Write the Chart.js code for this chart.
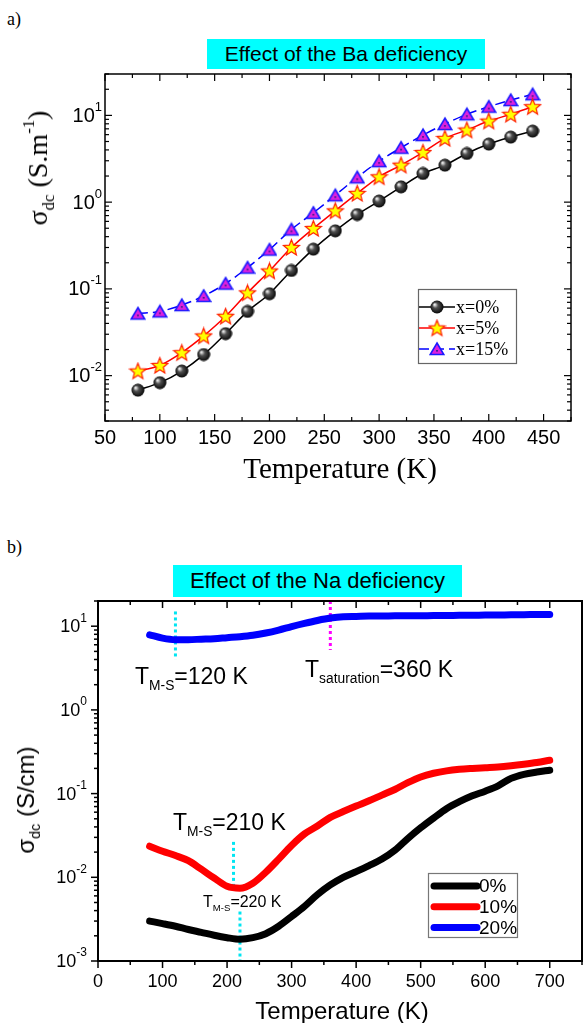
<!DOCTYPE html>
<html lang="en">
<head>
<meta charset="UTF-8" />
<title>DC conductivity vs temperature</title>
<script src="https://cdn.jsdelivr.net/npm/chart.js"></script>
<style>
  body { margin: 0; background: #fff; }
  .page { position: relative; width: 584px; height: 1023px; overflow: hidden; }
  canvas { position: absolute; left: 0; }
  .txt { position: absolute; white-space: nowrap; color: #000; line-height: 1; }
  .serif { font-family: "Liberation Serif", "Times New Roman", serif; }
  .sans { font-family: "Liberation Sans", Arial, sans-serif; }
  .banner { position: absolute; background: #00ffff; text-align: center; white-space: nowrap;
            font-family: "Liberation Sans", Arial, sans-serif; }
  .vert { transform: translate(-50%, -50%) rotate(-90deg); }
  .center { transform: translate(-50%, -50%); }
  .txt sub { font-size: 0.6em; vertical-align: -0.4em; line-height: 0; }
  .txt sup { font-size: 0.6em; vertical-align: 0.75em; line-height: 0; }
</style>
</head>
<body>
<div class="page">
  <!-- panel a -->
  <div class="txt serif" style="left:7px;top:10px;font-size:18px;">a)</div>
  <div class="banner" style="left:207px;top:39px;width:278px;height:30px;line-height:30px;font-size:21px;">Effect of the Ba deficiency</div>
  <canvas id="chartA" width="584" height="500" style="top:0"></canvas>
  <div class="txt serif vert" style="left:38px;top:168px;font-size:28px;">σ<sub>dc</sub> (S.m<sup>-1</sup>)</div>
  <div class="txt serif center" style="left:340px;top:468px;font-size:29px;">Temperature (K)</div>

  <!-- panel b -->
  <div class="txt serif" style="left:7px;top:538px;font-size:18px;">b)</div>
  <div class="banner" style="left:173px;top:565px;width:289px;height:32px;line-height:32px;font-size:22px;">Effect of the Na deficiency</div>
  <canvas id="chartB" width="584" height="523" style="top:500px"></canvas>
  <div class="txt sans vert" style="left:26px;top:800px;font-size:24px;">σ<sub>dc</sub> (S/cm)</div>
  <div class="txt sans center" style="left:342px;top:1011px;font-size:24px;">Temperature (K)</div>

  <div class="txt sans" style="left:135px;top:665px;font-size:23px;">T<sub>M-S</sub>=120 K</div>
  <div class="txt sans" style="left:305px;top:658px;font-size:23px;">T<sub>saturation</sub>=360 K</div>
  <div class="txt sans" style="left:173px;top:811px;font-size:23px;">T<sub>M-S</sub>=210 K</div>
  <div class="txt sans" style="left:203px;top:894px;font-size:16px;">T<sub>M-S</sub>=220 K</div>
</div>

<script>
  // ---- panel a: Ba-deficient samples ----
  const tempBa = [80, 100, 120, 140, 160, 180, 200, 220, 240, 260, 280, 300, 320, 340, 360, 380, 400, 420, 440];
  const sigmaBa0  = [0.0068, 0.0083, 0.0113, 0.0175, 0.0305, 0.055, 0.088, 0.163, 0.287, 0.467, 0.72, 1.03, 1.50, 2.14, 2.67, 3.64, 4.67, 5.62, 6.59];
  const sigmaBa5  = [0.0113, 0.0131, 0.0184, 0.0287, 0.0483, 0.090, 0.161, 0.300, 0.497, 0.794, 1.26, 1.96, 2.67, 3.74, 5.43, 6.78, 8.6, 10.3, 12.6];
  const sigmaBa15 = [0.052, 0.055, 0.065, 0.083, 0.115, 0.176, 0.284, 0.484, 0.753, 1.2, 1.93, 2.97, 4.24, 5.93, 7.94, 10.3, 12.6, 15.0, 17.5];
  const xLabelsBa = [50, 100, 150, 200, 250, 300, 350, 400, 450];

  // ---- panel b: Na-deficient samples ----
  const tempNa = [80, 100, 120, 140, 160, 180, 200, 220, 240, 260, 280, 300, 320, 340, 360, 380,
                  400, 420, 440, 460, 480, 500, 520, 540, 560, 580, 600, 620, 640, 660, 680, 700];
  const sigmaNa0  = [0.0030, 0.0028, 0.0026, 0.00238, 0.0022, 0.00203, 0.0019, 0.00182, 0.0019, 0.00212, 0.0026, 0.0034, 0.0045, 0.0062, 0.0081, 0.0100,
                     0.0117, 0.0138, 0.0165, 0.021, 0.029, 0.039, 0.051, 0.066, 0.080, 0.094, 0.107, 0.124, 0.152, 0.170, 0.181, 0.19];
  const sigmaNa10 = [0.0235, 0.0205, 0.0182, 0.0158, 0.0125, 0.0098, 0.0078, 0.0074, 0.0085, 0.0115, 0.0165, 0.024, 0.033, 0.041, 0.052, 0.061,
                     0.071, 0.082, 0.096, 0.112, 0.135, 0.158, 0.175, 0.187, 0.195, 0.200, 0.204, 0.208, 0.215, 0.224, 0.235, 0.25];
  const sigmaNa20 = [7.9, 7.2, 6.9, 6.9, 7.0, 7.1, 7.3, 7.5, 7.8, 8.3, 9.0, 9.9, 10.8, 11.7, 12.5, 13.0,
                     13.1, 13.2, 13.2, 13.3, 13.3, 13.3, 13.4, 13.4, 13.5, 13.5, 13.6, 13.6, 13.7, 13.7, 13.8, 13.8];
  const xLabelsNa = [0, 100, 200, 300, 400, 500, 600, 700];

  // transition markers: temperature, upper and lower conductivity of the dotted line
  const markTemp  = [120, 360, 210, 220];
  const markTop   = [15, 20, 0.0265, 0.0039];
  const markBot   = [4.0, 5.2, 0.0074, 0.001];
  const markColor = ['#00e5f2', '#ff00ff', '#00e5f2', '#00e5f2'];

  const xy = (xs, ys) => xs.map((t, i) => ({ x: t, y: ys[i] }));

  // marker sprites
  function sprite(size, draw) {
    const c = document.createElement('canvas');
    c.width = c.height = size;
    draw(c.getContext('2d'), size / 2);
    return c;
  }
  const ball = sprite(14, (g, r) => {
    const grad = g.createRadialGradient(r - 2.5, r - 2.5, 0.5, r, r, r);
    grad.addColorStop(0, '#f0f0f0');
    grad.addColorStop(0.35, '#505050');
    grad.addColorStop(1, '#000');
    g.fillStyle = grad;
    g.beginPath(); g.arc(r, r, r - 0.5, 0, Math.PI * 2); g.fill();
  });
  const star = sprite(19, (g, r) => {
    g.beginPath();
    for (let k = 0; k < 10; k++) {
      const rad = k % 2 ? 3.7 : 8.4;
      const ang = -Math.PI / 2 + k * Math.PI / 5;
      g.lineTo(r + rad * Math.cos(ang), r + 0.6 + rad * Math.sin(ang));
    }
    g.closePath();
    g.fillStyle = '#ffff00'; g.fill();
    g.strokeStyle = '#ff2000'; g.lineWidth = 1.2; g.stroke();
  });
  const tri = sprite(16, (g, r) => {
    g.beginPath();
    g.moveTo(r, r - 6); g.lineTo(r + 6.8, r + 5.5); g.lineTo(r - 6.8, r + 5.5); g.closePath();
    g.fillStyle = '#dd22dd'; g.fill();
    g.strokeStyle = '#1a1aff'; g.lineWidth = 1.6; g.stroke();
    g.fillStyle = '#202080'; g.fillRect(r - 0.8, r + 1, 1.6, 1.6);
  });

  // frame, ticks and tick labels, drawn off the chart's own scales
  const axisFrame = {
    id: 'axisFrame',
    afterDatasetsDraw(chart, args, o) {
      const { ctx, chartArea: a, scales: { x, y } } = chart;
      ctx.save();
      ctx.strokeStyle = '#000';
      ctx.lineWidth = o.lineWidth;
      ctx.strokeRect(a.left, a.top, a.right - a.left, a.bottom - a.top);
      const seg = (x1, y1, x2, y2) => { ctx.beginPath(); ctx.moveTo(x1, y1); ctx.lineTo(x2, y2); ctx.stroke(); };
      const sgn = s => (s === 'in' ? 1 : -1);
      ctx.lineWidth = o.tickWidth;

      for (let v = x.min; v <= x.max + 1e-9; v += o.xMinorStep) {
        const px = x.getPixelForValue(v);
        const len = o.xLabels.includes(v) ? o.majorLen : o.minorLen;
        if (o.bottom) seg(px, a.bottom, px, a.bottom - sgn(o.bottom) * len);
        if (o.top) seg(px, a.top, px, a.top + sgn(o.top) * len);
      }

      const eLo = Math.floor(Math.log10(y.min)), eHi = Math.ceil(Math.log10(y.max));
      for (let e = eLo; e <= eHi; e++) {
        for (let m = 1; m <= 9; m++) {
          const v = m * Math.pow(10, e);
          if (v < y.min * 0.999 || v > y.max * 1.001) continue;
          const py = y.getPixelForValue(v);
          const len = m === 1 ? o.majorLen : o.minorLen;
          if (o.left) seg(a.left, py, a.left + sgn(o.left) * len, py);
          if (o.right) seg(a.right, py, a.right - sgn(o.right) * len, py);
        }
      }

      ctx.fillStyle = '#000';
      ctx.textBaseline = 'middle';
      ctx.textAlign = 'center';
      ctx.font = o.xFont;
      o.xLabels.forEach(v => ctx.fillText(String(v), x.getPixelForValue(v), a.bottom + o.xLabelOffset));

      ctx.textAlign = 'left';
      for (let e = eLo; e <= eHi; e++) {
        const v = Math.pow(10, e);
        if (v < y.min * 0.999 || v > y.max * 1.001) continue;
        const py = y.getPixelForValue(v);
        ctx.font = o.expFont;
        const ew = ctx.measureText(String(e)).width;
        ctx.font = o.yFont;
        const bw = ctx.measureText('10').width;
        const right = a.left - o.yLabelGap;
        ctx.fillText('10', right - ew - bw, py + 1);
        ctx.font = o.expFont;
        ctx.fillText(String(e), right - ew, py - o.expRaise);
      }
      ctx.restore();
    }
  };

  // boxed legend with a line sample through each marker
  const boxLegend = {
    id: 'boxLegend',
    afterDraw(chart, args, o) {
      const ctx = chart.ctx;
      ctx.save();
      ctx.fillStyle = '#fff';
      ctx.fillRect(o.x, o.y, o.w, o.h);
      ctx.strokeStyle = o.border;
      ctx.lineWidth = 1.2;
      ctx.strokeRect(o.x + 0.5, o.y + 0.5, o.w, o.h);
      chart.data.datasets.slice(0, o.count).forEach((ds, i) => {
        const cy = o.y + o.rowTop + i * o.rowGap;
        ctx.strokeStyle = ds.borderColor;
        ctx.lineWidth = ds.borderWidth;
        ctx.lineCap = ds.borderCapStyle || 'butt';
        ctx.setLineDash(ds.borderDash || []);
        ctx.beginPath();
        ctx.moveTo(o.x + o.lineX0, cy);
        ctx.lineTo(o.x + o.lineX1, cy);
        ctx.stroke();
        ctx.setLineDash([]);
        if (ds.pointStyle instanceof HTMLCanvasElement) {
          const s = ds.pointStyle;
          ctx.drawImage(s, o.x + (o.lineX0 + o.lineX1) / 2 - s.width / 2, cy - s.height / 2);
        }
        ctx.fillStyle = '#000';
        ctx.font = o.font;
        ctx.textBaseline = 'middle';
        ctx.fillText(ds.label, o.x + o.textX, cy + 1);
      });
      ctx.restore();
    }
  };

  const markerSeries = (ds) => ({
    borderWidth: 1.5, tension: 0.4, cubicInterpolationMode: 'monotone',
    pointRadius: 7, pointStyle: ds.pointStyle, ...ds
  });

  new Chart(document.getElementById('chartA'), {
    type: 'line',
    data: {
      datasets: [
        markerSeries({ label: 'x=0%', data: xy(tempBa, sigmaBa0), borderColor: '#000', pointStyle: ball }),
        markerSeries({ label: 'x=5%', data: xy(tempBa, sigmaBa5), borderColor: '#ff0000', pointStyle: star }),
        markerSeries({ label: 'x=15%', data: xy(tempBa, sigmaBa15), borderColor: '#0000ff', borderDash: [10, 5], pointStyle: tri })
      ]
    },
    options: {
      responsive: false, animation: false, events: [],
      layout: { padding: { left: 105, top: 74, right: 13, bottom: 79 } },
      scales: {
        x: { type: 'linear', min: 50, max: 475, display: false },
        y: { type: 'logarithmic', min: 0.003, max: 30, display: false }
      },
      plugins: {
        legend: { display: false }, tooltip: { enabled: false },
        axisFrame: {
          lineWidth: 1.5, tickWidth: 1.2, majorLen: 7, minorLen: 4, xMinorStep: 25, xLabels: xLabelsBa,
          bottom: 'in', top: 'in', left: 'in', right: 'in',
          xFont: '20px "Liberation Sans", Arial', xLabelOffset: 17,
          yFont: '20px "Liberation Sans", Arial', expFont: '13px "Liberation Sans", Arial', expRaise: 8, yLabelGap: 3
        },
        boxLegend: {
          x: 418, y: 289, w: 98, h: 74, count: 3, rowTop: 18, rowGap: 21,
          lineX0: 1, lineX1: 37, textX: 38, border: '#666', font: '18px "Liberation Serif", "Times New Roman"'
        }
      }
    },
    plugins: [axisFrame, boxLegend]
  });

  const thick = (label, ys, color) => ({
    label, data: xy(tempNa, ys), borderColor: color, borderWidth: 7, borderCapStyle: 'round',
    pointRadius: 0, tension: 0.4, cubicInterpolationMode: 'monotone'
  });
  const marks = markTemp.map((t, i) => ({
    label: 'mark' + i, data: [{ x: t, y: markTop[i] }, { x: t, y: markBot[i] }],
    borderColor: markColor[i], borderWidth: 3, borderDash: [3, 3], pointRadius: 0
  }));

  new Chart(document.getElementById('chartB'), {
    type: 'line',
    data: {
      datasets: [
        thick('0%', sigmaNa0, '#000'),
        thick('10%', sigmaNa10, '#ff0000'),
        thick('20%', sigmaNa20, '#0000ff'),
        ...marks
      ]
    },
    options: {
      responsive: false, animation: false, events: [],
      layout: { padding: { left: 98, top: 101, right: 2, bottom: 62 } },
      scales: {
        x: { type: 'linear', min: 0, max: 750, display: false },
        y: { type: 'logarithmic', min: 0.001, max: 20, display: false }
      },
      plugins: {
        legend: { display: false }, tooltip: { enabled: false },
        axisFrame: {
          lineWidth: 2, tickWidth: 1.5, majorLen: 7, minorLen: 4, xMinorStep: 50, xLabels: xLabelsNa,
          bottom: 'out', top: 'in', left: 'out', right: null,
          xFont: '18px "Liberation Sans", Arial', xLabelOffset: 21,
          yFont: '18px "Liberation Sans", Arial', expFont: '12px "Liberation Sans", Arial', expRaise: 8, yLabelGap: 11
        },
        boxLegend: {
          x: 428, y: 373, w: 89, h: 64, count: 3, rowTop: 13, rowGap: 20.7,
          lineX0: 6, lineX1: 49, textX: 51, border: '#777', font: '19px "Liberation Sans", Arial'
        }
      }
    },
    plugins: [axisFrame, boxLegend]
  });
</script>
</body>
</html>
